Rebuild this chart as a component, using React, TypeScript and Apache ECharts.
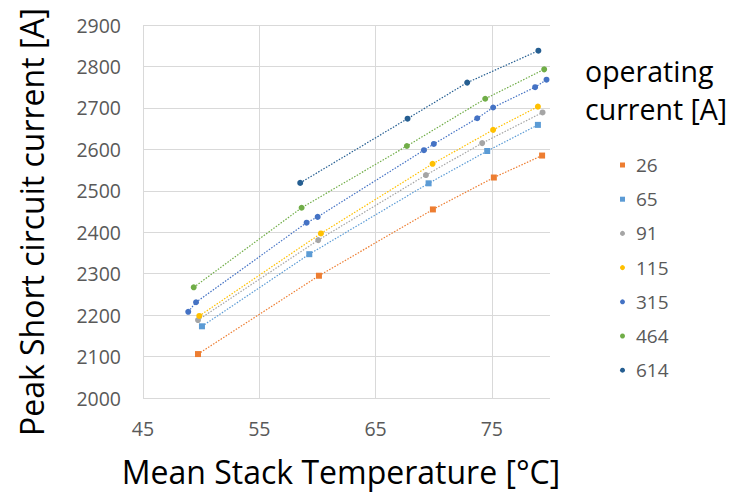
import React, { useEffect, useRef } from "react";
import * as echarts from "echarts";

const seriesNames = ["26", "65", "91", "115", "315", "464", "614"];
const seriesColors = ["#ED7D31", "#5B9BD5", "#A5A5A5", "#FFC000", "#4472C4", "#70AD47", "#255E91"];
const seriesSymbols = ["rect", "rect", "circle", "circle", "circle", "circle", "circle"];

const temp26 = [49.73, 60.13, 69.93, 75.17, 79.32];
const current26 = [2106, 2295, 2455, 2532, 2585];
const temp65 = [50.07, 59.3, 69.56, 74.6, 78.96];
const current65 = [2173, 2347, 2518, 2596, 2659];
const temp91 = [49.73, 60.07, 69.33, 74.17, 79.36];
const current91 = [2188, 2381, 2538, 2615, 2689];
const temp115 = [49.84, 60.3, 69.9, 75.11, 78.96];
const current115 = [2198, 2397, 2565, 2647, 2703];
const temp315 = [48.89, 49.56, 59.07, 60.02, 69.16, 70.01, 73.74, 75.11, 78.72, 79.7];
const current315 = [2208, 2231, 2423, 2437, 2598, 2613, 2675, 2701, 2750, 2768];
const temp464 = [49.36, 58.64, 67.69, 74.43, 79.5];
const current464 = [2267, 2459, 2608, 2722, 2793];
const temp614 = [58.52, 67.75, 72.88, 79.0];
const current614 = [2519, 2674, 2761, 2838];

const temps = [temp26, temp65, temp91, temp115, temp315, temp464, temp614];
const currents = [current26, current65, current91, current115, current315, current464, current614];

const xTitle = "Mean Stack Temperature [°C]";
const yTitle = "Peak Short circuit current [A]";
const legendTitle1 = "operating";
const legendTitle2 = "current [A]";

const FONT = "'Open Sans', 'Noto Sans', sans-serif";

export default function App() {
  const ref = useRef<HTMLDivElement>(null);
  useEffect(() => {
    document.body.style.margin = "0";
    const chart = echarts.init(ref.current!, null, { renderer: "svg" });
    const series = seriesNames.map((name, i) => ({
      name,
      type: "line",
      data: temps[i].map((t, j) => [t, currents[i][j]]),
      symbol: seriesSymbols[i],
      symbolSize: 6,
      showSymbol: true,
      itemStyle: { color: seriesColors[i] },
      lineStyle: { color: seriesColors[i], width: 1.2, type: [1.5, 1.5] },
      emphasis: { disabled: true },
    }));
    chart.setOption({
      animation: false,
      textStyle: { fontFamily: FONT },
      grid: { left: 143, right: 202, top: 25, bottom: 94, containLabel: false, outerBoundsMode: "none" },
      xAxis: {
        type: "value",
        min: 45,
        max: 80,
        interval: 10,
        axisLine: { show: false },
        axisTick: { show: false },
        axisLabel: {
          color: "#595959",
          fontSize: 19.5,
          fontFamily: FONT,
          margin: 20,
          showMaxLabel: false,
          formatter: (v: number) => String(v),
        },
        splitLine: { show: true, showMaxLine: false, lineStyle: { color: "#D9D9D9", width: 1 } },
      },
      yAxis: {
        type: "value",
        min: 2000,
        max: 2900,
        interval: 100,
        axisLine: { show: false },
        axisTick: { show: false },
        axisLabel: {
          color: "#595959",
          fontSize: 19.5,
          fontFamily: FONT,
          margin: 22,
          formatter: (v: number) => String(v),
        },
        splitLine: { show: true, lineStyle: { color: "#D9D9D9", width: 1 } },
      },
      legend: {
        orient: "vertical",
        left: 615,
        top: 150,
        itemWidth: 17,
        itemHeight: 5,
        itemGap: 14.2,
        data: seriesNames.map((n, i) => ({
          name: n,
          icon: seriesSymbols[i] === "rect" ? "path://M0 0H10V10H0Z" : "circle",
        })),
        textStyle: { color: "#595959", fontSize: 19, fontFamily: FONT, lineHeight: 20 },
        selectedMode: false,
      },
      graphic: [
        {
          type: "text",
          x: 341,
          y: 471,
          style: { text: xTitle, fill: "#000", font: `32px ${FONT}`, align: "center", verticalAlign: "middle" },
        },
        {
          type: "text",
          x: 31,
          y: 222,
          rotation: Math.PI / 2,
          style: { text: yTitle, fill: "#000", font: `32px ${FONT}`, align: "center", verticalAlign: "middle" },
        },
        {
          type: "text",
          x: 585,
          y: 71,
          style: { text: legendTitle1, fill: "#000", font: `28.5px ${FONT}`, align: "left", verticalAlign: "middle" },
        },
        {
          type: "text",
          x: 585,
          y: 109,
          style: { text: legendTitle2, fill: "#000", font: `28.5px ${FONT}`, align: "left", verticalAlign: "middle" },
        },
      ],
      series,
    });
    return () => chart.dispose();
  }, []);
  return <div ref={ref} style={{ width: 752, height: 492, position: "absolute", left: 0, top: 0 }} />;
}
